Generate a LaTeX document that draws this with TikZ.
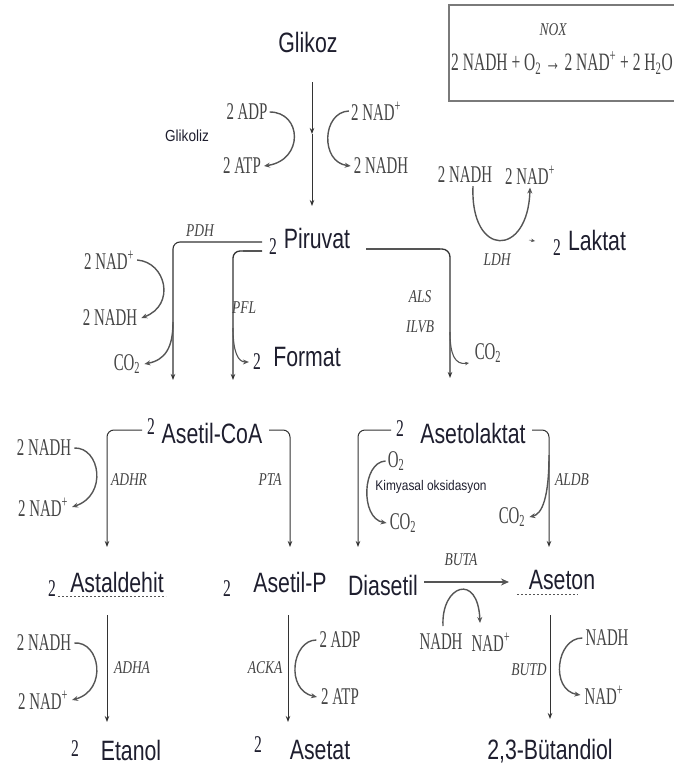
\documentclass[tikz,border=0pt]{standalone}
\usepackage{fontspec}
\setmainfont{Liberation Sans}
\newfontfamily\metfont[FakeStretch=0.76]{Liberation Sans}
\newfontfamily\smallsans[FakeStretch=0.85]{Liberation Sans}
\newfontfamily\labfont[FakeStretch=0.62]{Liberation Serif}
\newfontfamily\enzfont[FakeStretch=0.75]{Liberation Serif}
\newfontfamily\numfont[FakeStretch=0.65]{Liberation Serif}
\usetikzlibrary{arrows.meta}
\definecolor{maincol}{HTML}{1E1E2E}
\definecolor{labcol}{HTML}{444444}
\definecolor{linecol}{HTML}{333333}
\definecolor{sidecol}{HTML}{555555}
\definecolor{boxcol}{HTML}{7A7A7A}
\tikzset{
  met/.style={font=\metfont\fontsize{28}{30}\selectfont, text=maincol, inner sep=0pt},
  num/.style={font=\numfont\fontsize{24}{26}\selectfont, text=maincol, inner sep=0pt},
  cof/.style={font=\labfont\fontsize{24}{26}\selectfont, text=labcol, inner sep=0pt},
  enz/.style={font=\enzfont\itshape\fontsize{18}{20}\selectfont, text=labcol, inner sep=0pt},
  flow/.style={draw=linecol, line width=1pt, -{Stealth[length=6pt,width=4.5pt]}},
  side/.style={draw=sidecol, line width=1.4pt, -{Stealth[length=6pt,width=5pt]}},
  heavy/.style={draw=sidecol, line width=2.4pt},
  dotline/.style={draw=sidecol, line width=0.9pt, dash pattern=on 2pt off 2pt},
}
\begin{document}
\begin{tikzpicture}[x=1pt,y=-1pt]
\useasboundingbox (0,0) rectangle (674,776);
% ---------- Glycolysis ----------
\node[met] (glik) at (308,42) {Glikoz};
\node[font=\smallsans\fontsize{16}{18}\selectfont, text=maincol, inner sep=0pt] (glz) at (187,136) {Glikoliz};
\coordinate (g1) at (312,82);
\coordinate (g2) at (312,134);
\coordinate (g3) at (312,206);
\draw[flow] (g1) -- (g2);
\draw[flow] (g2) -- (g3);
\node[cof] (adp1) at (247,112) {2 ADP};
\node[cof] (atp1) at (242,166) {2 ATP};
\node[cof] (nad1) at (376,111) {2 NAD\textsuperscript{+}};
\node[cof] (nadh1) at (381,166) {2 NADH};
\draw[side] ([xshift=2pt]adp1.east) .. controls (302,112) and (304,160) .. ([xshift=3pt]atp1.east);
\draw[side] ([xshift=-2pt]nad1.west) .. controls (322,112) and (320,162) .. ([xshift=-3pt]nadh1.west);
% ---------- NOX box ----------
\draw[boxcol, line width=2pt] (449,5) rectangle (690,101);
\node[enz] (nox) at (553,30) {NOX};
\node[font=\labfont\fontsize{25}{27}\selectfont, text=labcol, inner sep=0pt] (eq) at (562,63)
  {2 NADH + O\textsubscript{2} → 2 NAD\textsuperscript{+} + 2 H\textsubscript{2}O};
% ---------- Piruvat ----------
\node[num] (n1) at (273,247) {2};
\node[met] (piru) at (317,238) {Piruvat};
% PDH
\coordinate (pdhS) at (262,242);
\coordinate (pdhE) at (173,380);
\draw[flow, line width=1.1pt, rounded corners=7pt] (pdhS) -| (pdhE);
\node[enz] (pdh) at (200,231) {PDH};
\node[cof] (nadp2) at (109,260) {2 NAD\textsuperscript{+}};
\node[cof] (nadh2) at (110,318) {2 NADH};
\node[cof] (co2a) at (127,364) {CO\textsubscript{2}};
\draw[side] ([xshift=3pt]nadp2.east) .. controls (166,262) and (176,305) .. ([xshift=4pt]nadh2.east);
\coordinate (pdhB) at (173,322);
\draw[side] (pdhB) .. controls (173,348) and (165,360) .. ([xshift=4pt]co2a.east);
% PFL
\coordinate (pflS) at (262,251);
\coordinate (pflE) at (233,380);
\draw[flow, line width=1.3pt, rounded corners=7pt] (pflS) -| (pflE);
\draw[heavy] (pflS) -- (243,251);
\node[enz] (pfl) at (244,308) {PFL};
\coordinate (pflB) at (233,328);
\node[num] (n3) at (257,362) {2};
\node[met] (form) at (307,357) {Format};
\draw[side, line width=1.1pt] (pflB) .. controls (233,352) and (238,362) .. ([xshift=-4pt]n3.west);
% ALS
\coordinate (alsS) at (366,249);
\coordinate (alsE) at (450,378);
\draw[flow, line width=1.3pt, rounded corners=8pt] (alsS) -| (alsE);
\draw[heavy] (alsS) -- (440,249);
\node[enz] (als) at (420,297) {ALS};
\node[enz] (ilvb) at (420,327) {ILVB};
\coordinate (alsB) at (450,332);
\coordinate (alsC) at (469,363);
\node[cof] (co2b) at (488,353) {CO\textsubscript{2}};
\draw[side, line width=1.1pt, -{Stealth[length=4pt,width=3.5pt]}] (alsB) .. controls (450,355) and (455,365) .. (alsC);
% LDH
\node[cof] (nadh3) at (465,175) {2 NADH};
\node[cof] (nadp3) at (530,175) {2 NAD\textsuperscript{+}};
\draw[side] ([xshift=8pt,yshift=-3pt]nadh3.south) .. controls (470,258) and (528,258) .. ([yshift=-3pt]nadp3.south);
\node[enz] (ldh) at (497,260) {LDH};
\node[num] (n2) at (557,248) {2};
\node[met] (lakt) at (597,240) {Laktat};
\coordinate (la1) at (529,240);
\coordinate (la2) at (535,241);
\draw[sidecol, line width=0.5pt, -{Stealth[length=4pt,width=3.5pt]}] (la1) -- (la2);
% ---------- Asetil-CoA ----------
\node[num] (n4) at (151,427) {2};
\node[met] (acoa) at (212,433) {Asetil-CoA};
\coordinate (acL) at (142,430);
\coordinate (acLE) at (107,547);
\draw[flow, rounded corners=7pt] (acL) -| (acLE);
\coordinate (acR) at (269,430);
\coordinate (acRE) at (290,547);
\draw[flow, rounded corners=7pt] (acR) -| (acRE);
\node[cof] (nadh4) at (44,448) {2 NADH};
\node[cof] (nadp4) at (43,507) {2 NAD\textsuperscript{+}};
\draw[side] ([xshift=3pt]nadh4.east) .. controls (100,447) and (108,495) .. ([xshift=4pt]nadp4.east);
\node[enz] (adhr) at (129,480) {ADHR};
\node[enz] (pta) at (270,480) {PTA};
% ---------- Asetolaktat ----------
\node[num] (n5) at (400,429) {2};
\node[met] (asl) at (473,433) {Asetolaktat};
\coordinate (alL) at (391,430);
\coordinate (alLE) at (358,547);
\draw[flow, rounded corners=7pt] (alL) -| (alLE);
\coordinate (alR) at (532,430);
\coordinate (alRE) at (549,547);
\draw[flow, rounded corners=7pt] (alR) -| (alRE);
\node[cof] (o2) at (396,461) {O\textsubscript{2}};
\node[cof] (co2c) at (403,523) {CO\textsubscript{2}};
\draw[side] ([xshift=-2pt]o2.west) .. controls (362,462) and (360,518) .. ([xshift=-3pt]co2c.west);
\node[font=\smallsans\fontsize{14}{16}\selectfont, text=maincol, inner sep=0pt] (kim) at (431,487) {Kimyasal oksidasyon};
\node[enz] (aldb) at (572,480) {ALDB};
\node[cof] (co2d) at (512,517) {CO\textsubscript{2}};
\coordinate (aldB) at (549,455);
\draw[side] (aldB) .. controls (549,498) and (542,514) .. ([xshift=4pt]co2d.east);
% ---------- Row 3 ----------
\node[num] (n6) at (52,589) {2};
\node[met] (astal) at (117,582) {Astaldehit};
\coordinate (u1) at (58,596);
\coordinate (u2) at (166,596);
\draw[dotline] (u1) -- (u2);
\node[num] (n7) at (227,589) {2};
\node[met] (asp) at (290,582) {Asetil-P};
\node[met] (dia) at (383,585) {Diasetil};
\node[met] (ase) at (562,580) {Aseton};
\coordinate (u3) at (517,594);
\coordinate (u4) at (578,594);
\draw[dotline] (u3) -- (u4);
\coordinate (bS) at (424,582);
\coordinate (bE) at (509,582);
\draw[draw=sidecol, line width=2.4pt, -{Stealth[length=8pt,width=7pt]}] (bS) -- (bE);
\node[enz] (buta) at (461,560) {BUTA};
\node[cof] (nadh5) at (441,642) {NADH};
\node[cof] (nadp5) at (491,642) {NAD\textsuperscript{+}};
\coordinate (bc1) at (443,626);
\coordinate (bc2) at (480,623);
\draw[side] (bc1) .. controls (441,585) and (478,572) .. (bc2);
% ---------- Row 4 ----------
\coordinate (e1) at (107,615);
\coordinate (e2) at (107,722);
\draw[flow] (e1) -- (e2);
\node[cof] (nadh6) at (44,643) {2 NADH};
\node[cof] (nadp6) at (43,700) {2 NAD\textsuperscript{+}};
\draw[side] ([xshift=3pt]nadh6.east) .. controls (100,641) and (108,690) .. ([xshift=4pt]nadp6.east);
\node[enz] (adha) at (132,668) {ADHA};
\coordinate (a1) at (288,615);
\coordinate (a2) at (288,722);
\draw[flow] (a1) -- (a2);
\node[cof] (adp2) at (340,640) {2 ADP};
\node[cof] (atp2) at (340,697) {2 ATP};
\draw[side] ([xshift=-3pt]adp2.west) .. controls (292,640) and (285,690) .. ([xshift=-4pt]atp2.west);
\node[enz] (acka) at (265,668) {ACKA};
\coordinate (b1) at (550,615);
\coordinate (b2) at (550,719);
\draw[flow] (b1) -- (b2);
\node[cof] (nadh7) at (607,638) {NADH};
\node[cof] (nadp7) at (604,695) {NAD\textsuperscript{+}};
\draw[side] ([xshift=-3pt]nadh7.west) .. controls (556,638) and (550,690) .. ([xshift=-4pt]nadp7.west);
\node[enz] (butd) at (529,670) {BUTD};
\node[num] (n8) at (75,749) {2};
\node[met] (etn) at (131,750) {Etanol};
\node[num] (n9) at (258,745) {2};
\node[met] (asetat) at (320,750) {Asetat};
\node[met] (but) at (550,751) {2,3-Bütandiol};
\end{tikzpicture}
\end{document}
